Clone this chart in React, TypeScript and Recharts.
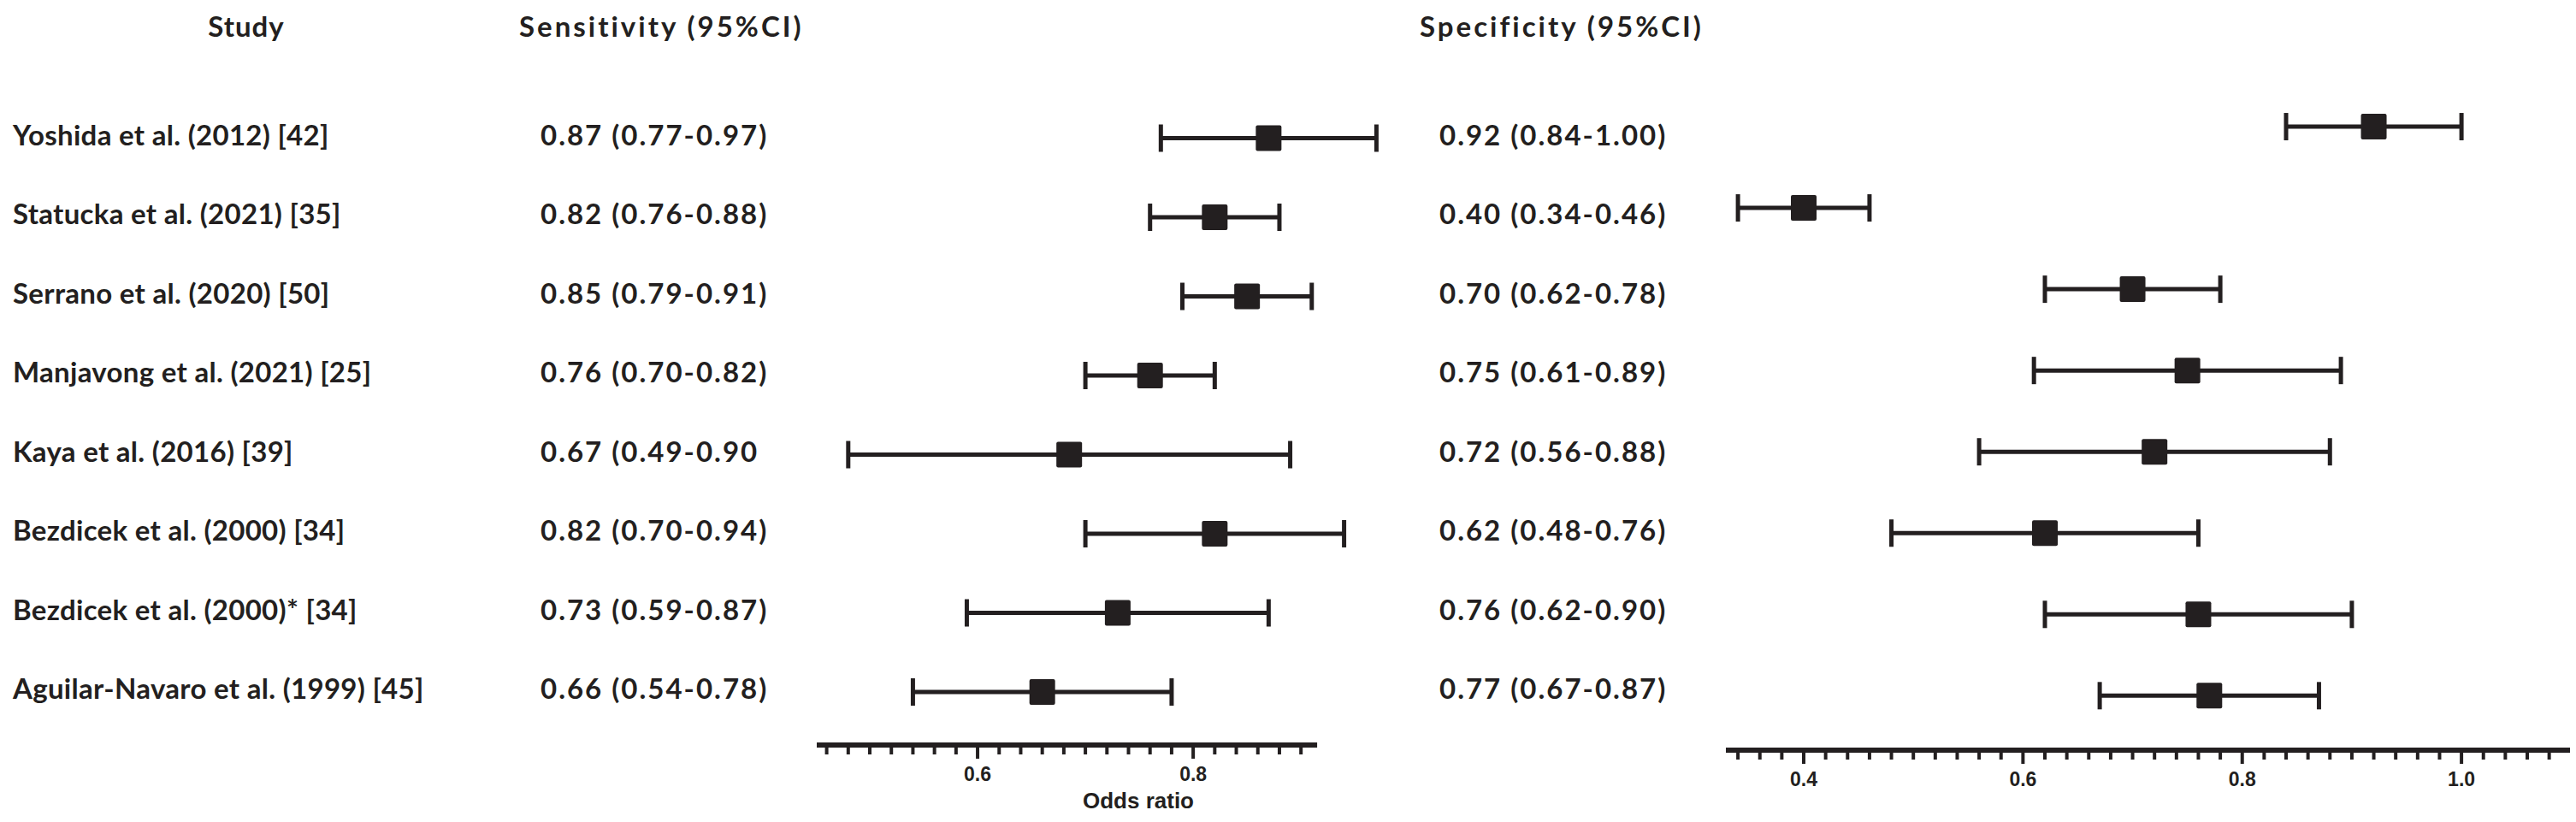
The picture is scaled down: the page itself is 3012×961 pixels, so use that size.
import React from 'react';
import { ScatterChart, Scatter, XAxis, YAxis, ErrorBar, ReferenceLine } from 'recharts';

const INK = '#231f20';
const TEXT_FONT = 'Lato, "Open Sans", sans-serif';
const AXIS_FONT = '"Liberation Sans", Arial, sans-serif';

const studies = [
  'Yoshida et al. (2012) [42]',
  'Statucka et al. (2021) [35]',
  'Serrano et al. (2020) [50]',
  'Manjavong et al. (2021) [25]',
  'Kaya et al. (2016) [39]',
  'Bezdicek et al. (2000) [34]',
  'Bezdicek et al. (2000)* [34]',
  'Aguilar-Navaro et al. (1999) [45]',
];

const sensText = [
  '0.87 (0.77-0.97)',
  '0.82 (0.76-0.88)',
  '0.85 (0.79-0.91)',
  '0.76 (0.70-0.82)',
  '0.67 (0.49-0.90',
  '0.82 (0.70-0.94)',
  '0.73 (0.59-0.87)',
  '0.66 (0.54-0.78)',
];

const specText = [
  '0.92 (0.84-1.00)',
  '0.40 (0.34-0.46)',
  '0.70 (0.62-0.78)',
  '0.75 (0.61-0.89)',
  '0.72 (0.56-0.88)',
  '0.62 (0.48-0.76)',
  '0.76 (0.62-0.90)',
  '0.77 (0.67-0.87)',
];

// positions as plotted in the figure
const sens = [0.87, 0.82, 0.85, 0.76, 0.685, 0.82, 0.73, 0.66];
const sensLow = [0.77, 0.76, 0.79, 0.7, 0.48, 0.7, 0.59, 0.54];
const sensHigh = [0.97, 0.88, 0.91, 0.82, 0.89, 0.94, 0.87, 0.78];

const spec = [0.92, 0.4, 0.7, 0.75, 0.72, 0.62, 0.76, 0.77];
const specLow = [0.84, 0.34, 0.62, 0.61, 0.56, 0.48, 0.62, 0.67];
const specHigh = [1.0, 0.46, 0.78, 0.89, 0.88, 0.76, 0.9, 0.87];

const sensTicks = [0.46, 0.48, 0.5, 0.52, 0.54, 0.56, 0.58, 0.6, 0.62, 0.64, 0.66, 0.68, 0.7,
  0.72, 0.74, 0.76, 0.78, 0.8, 0.82, 0.84, 0.86, 0.88, 0.9];
const sensMajor = [0.6, 0.8];
const specTicks = [0.34, 0.36, 0.38, 0.4, 0.42, 0.44, 0.46, 0.48, 0.5, 0.52, 0.54, 0.56, 0.58,
  0.6, 0.62, 0.64, 0.66, 0.68, 0.7, 0.72, 0.74, 0.76, 0.78, 0.8, 0.82, 0.84, 0.86, 0.88, 0.9,
  0.92, 0.94, 0.96, 0.98, 1.0, 1.02, 1.04, 1.06, 1.08];
const specMajor = [0.4, 0.6, 0.8, 1.0];

const sensAxisLine = [0.4508, 0.915];
const rowDomain = [-1, 7.67];
const rowTicks = [0, 1, 2, 3, 4, 5, 6, 7];

const sensData = studies.map((s, i) => ({
  row: i,
  value: sens[i],
  err: [sens[i] - sensLow[i], sensHigh[i] - sens[i]],
}));
const specData = studies.map((s, i) => ({
  row: i,
  value: spec[i],
  err: [spec[i] - specLow[i], specHigh[i] - spec[i]],
}));

const Square = (props: any) => {
  const { cx, cy } = props;
  return <rect x={cx - 15} y={cy - 15} width={30} height={30} rx={2} fill={INK} />;
};

const makeXTick = (major: number[]) => (props: any) => {
  const { x, y, payload } = props;
  const isMajor = major.some((m) => Math.abs(m - payload.value) < 1e-6);
  return (
    <g>
      <line x1={x} x2={x} y1={y} y2={y + (isMajor ? 16 : 11)} stroke={INK} strokeWidth={4} />
      {isMajor && (
        <text x={x} y={y + 42} textAnchor="middle" fontFamily={AXIS_FONT} fontWeight="bold"
          fontSize={23} fill={INK}>
          {payload.value.toFixed(1)}
        </text>
      )}
    </g>
  );
};

const RowLabels = (props: any) => {
  const { y, payload } = props;
  const i = payload.value;
  const common = { fontFamily: TEXT_FONT, fontWeight: 700, fontSize: 33, fill: INK, dominantBaseline: 'central' as const };
  return (
    <g>
      <text x={15} y={y - 5} letterSpacing={0.3} {...common}>{studies[i]}</text>
      <text x={632} y={y - 5} letterSpacing={2} {...common}>{sensText[i]}</text>
      <text x={1683} y={y - 5} letterSpacing={2} {...common}>{specText[i]}</text>
    </g>
  );
};

const header: React.CSSProperties = {
  position: 'absolute', fontFamily: TEXT_FONT, fontWeight: 700, fontSize: 33,
  color: INK, lineHeight: '40px', whiteSpace: 'nowrap',
};

export default function App() {
  return (
    <div style={{ position: 'absolute', left: 0, top: 0, width: 3012, height: 961, background: '#fff' }}>
      <div style={{ ...header, left: 188, top: 10, width: 200, textAlign: 'center', letterSpacing: 1 }}>Study</div>
      <div style={{ ...header, left: 607, top: 10, letterSpacing: 3 }}>Sensitivity (95%CI)</div>
      <div style={{ ...header, left: 1660, top: 10, letterSpacing: 3 }}>Specificity (95%CI)</div>

      <div style={{ position: 'absolute', left: 0, top: 69 }}>
        <ScatterChart width={3012} height={862} margin={{ top: 0, right: 1390, bottom: 0, left: 0 }}>
          <XAxis type="number" dataKey="value" domain={[sensAxisLine[0], 0.98]} ticks={sensTicks}
            interval={0} axisLine={false} tickLine={false} tickSize={0} tickMargin={0}
            height={60} tick={makeXTick(sensMajor)} />
          <YAxis type="number" dataKey="row" domain={rowDomain} reversed ticks={rowTicks}
            interval={0} width={955} axisLine={false} tickLine={false} tick={RowLabels} />
          <ReferenceLine segment={[{ x: sensAxisLine[0], y: rowDomain[1] }, { x: sensAxisLine[1], y: rowDomain[1] }]}
            stroke={INK} strokeWidth={6} ifOverflow="visible" />
          <Scatter data={sensData} shape={Square} isAnimationActive={false}>
            <ErrorBar dataKey="err" direction="x" width={16} stroke={INK} strokeWidth={5}
              isAnimationActive={false} />
          </Scatter>
        </ScatterChart>
      </div>
      <div style={{ position: 'absolute', left: 1231, top: 921, width: 200, textAlign: 'center',
        fontFamily: AXIS_FONT, fontWeight: 700, fontSize: 26, color: INK, lineHeight: '30px' }}>
        Odds ratio
      </div>

      <div style={{ position: 'absolute', left: 2018, top: 53 }}>
        <ScatterChart width={987} height={884} margin={{ top: 0, right: 0, bottom: 0, left: 0 }}>
          <XAxis type="number" dataKey="value" domain={[0.329, 1.099]} ticks={specTicks}
            interval={0} axisLine={{ stroke: INK, strokeWidth: 6 }} tickLine={false}
            tickSize={0} tickMargin={0} height={60} tick={makeXTick(specMajor)} />
          <YAxis hide type="number" dataKey="row" domain={rowDomain} reversed />
          <Scatter data={specData} shape={Square} isAnimationActive={false}>
            <ErrorBar dataKey="err" direction="x" width={16} stroke={INK} strokeWidth={5}
              isAnimationActive={false} />
          </Scatter>
        </ScatterChart>
      </div>
    </div>
  );
}
